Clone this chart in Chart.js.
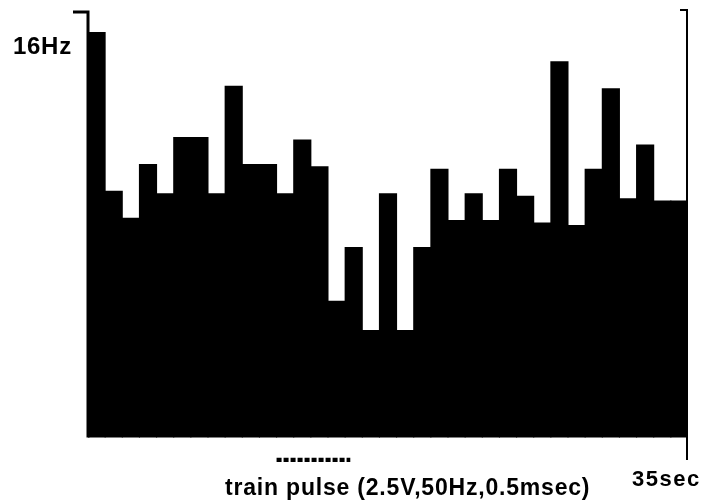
<!DOCTYPE html>
<html lang="en">
<head>
  <meta charset="UTF-8" />
  <title>Firing rate histogram</title>
  <script src="https://cdn.jsdelivr.net/npm/chart.js"></script>
  <style>
    body {
      margin: 0;
      background: #fff;
      font-family: 'Liberation Sans', Arial, sans-serif;
    }
    .wrap {
      position: relative;
      width: 711px;
      height: 503px;
    }
    .lbl {
      position: absolute;
      font-weight: bold;
      color: #000;
      line-height: 1;
      white-space: nowrap;
    }
    #yLabel { left: 13px; top: 34px; font-size: 24px; letter-spacing: 0.7px; }
    #stimLabel { left: 225px; top: 476px; font-size: 23px; letter-spacing: 0.8px; }
    #xLabel { left: 632px; top: 468px; font-size: 22px; letter-spacing: 1.5px; }
  </style>
</head>
<body>
  <div class="wrap">
    <canvas id="hist"></canvas>
    <div class="lbl" id="yLabel">16Hz</div>
    <div class="lbl" id="stimLabel">train pulse (2.5V,50Hz,0.5msec)</div>
    <div class="lbl" id="xLabel">35sec</div>
  </div>

  <script>
    // firing rate per 1 sec bin (Hz), 35 bins
    const rates = [16.6, 10.1, 9.0, 11.2, 10.0, 12.3, 12.3, 10.0, 14.4, 11.2,
                   11.2, 10.0, 12.2, 11.1, 5.6, 7.8, 4.4, 10.0, 4.4, 7.8,
                   11.0, 8.9, 10.0, 8.9, 11.0, 9.9, 8.8, 15.4, 8.7, 11.0,
                   14.3, 9.8, 12.0, 9.7, 9.7];
    const totalSec = 35;
    const yMax = 17.5;
    const yMin = -1;
    // stimulation period (sec)
    const stimStart = 11;
    const stimEnd = 15.3;
    const stimLevel = -0.93;

    const barData = rates.map((v, i) => ({ x: i + 0.5, y: v }));

    // axis frame: top ticks and right vertical line
    const framePlugin = {
      id: 'frame',
      afterDatasetsDraw(chart) {
        const { ctx, scales: { x, y } } = chart;
        const x0 = x.getPixelForValue(0);
        const x1 = x.getPixelForValue(totalSec);
        const top = y.getPixelForValue(yMax);
        const base = y.getPixelForValue(0);
        const bottom = y.getPixelForValue(yMin);
        ctx.save();
        ctx.strokeStyle = '#000';
        // left
        ctx.lineWidth = 3;
        ctx.beginPath();
        ctx.moveTo(x0 - 15, top + 2);
        ctx.lineTo(x0, top + 2);
        ctx.lineTo(x0, base);
        ctx.stroke();
        // right
        ctx.lineWidth = 2;
        ctx.beginPath();
        ctx.moveTo(x1 - 8, top);
        ctx.lineTo(x1 - 1, top);
        ctx.lineTo(x1 - 1, bottom - 2);
        ctx.stroke();
        ctx.restore();
      }
    };

    new Chart(document.getElementById('hist'), {
      data: {
        datasets: [{
          type: 'bar',
          data: barData,
          backgroundColor: '#000',
          borderWidth: 0,
          barPercentage: 1.06,   // slight overlap so no seams between bins
          categoryPercentage: 1
        }, {
          type: 'line',
          data: [{ x: stimStart, y: stimLevel }, { x: stimEnd, y: stimLevel }],
          borderColor: '#000',
          borderWidth: 5,
          borderDash: [5, 2],
          pointRadius: 0
        }]
      },
      options: {
        responsive: true,
        maintainAspectRatio: false,
        animation: false,
        layout: { padding: { left: 88, right: 23, top: 10, bottom: 41 } },
        plugins: { legend: { display: false }, tooltip: { enabled: false } },
        scales: {
          x: { type: 'linear', min: 0, max: totalSec, offset: false, display: false },
          y: { min: yMin, max: yMax, display: false }
        }
      },
      plugins: [framePlugin]
    });
  </script>
</body>
</html>
